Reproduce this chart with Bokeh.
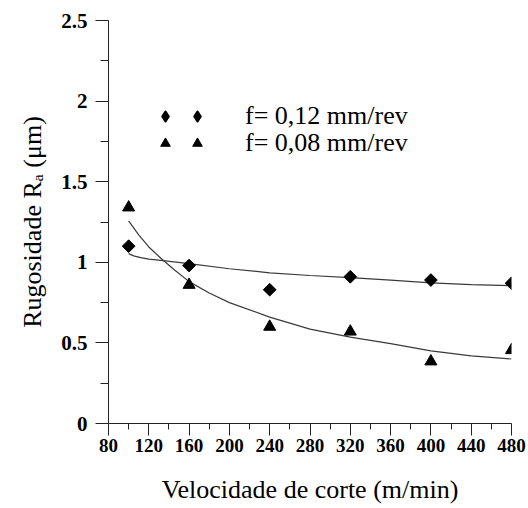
from bokeh.plotting import figure
from bokeh.models import Range1d, FixedTicker, Legend, LegendItem, Title
from bokeh.embed import file_html
from bokeh.resources import INLINE
import math

# ---- data ----
speed = [100, 160, 240, 320, 400, 480]
ra_f012 = [1.10, 0.98, 0.83, 0.91, 0.89, 0.87]
ra_f008 = [1.34, 0.86, 0.60, 0.57, 0.385, 0.455]

trend_f012_x = [100, 105, 112, 120, 132, 160, 200, 240, 280, 320, 360, 400, 440, 480]
trend_f012_y = [1.054, 1.040, 1.029, 1.020, 1.012, 0.992, 0.96, 0.935, 0.918, 0.905, 0.89, 0.872, 0.862, 0.855]

trend_f008_x = [100, 110, 120, 132, 145, 160, 180, 200, 240, 280, 320, 360, 400, 440, 480]
trend_f008_y = [1.257, 1.17, 1.095, 1.025, 0.955, 0.88, 0.81, 0.75, 0.66, 0.585, 0.536, 0.495, 0.45, 0.42, 0.40]

x_ticks = [80, 120, 160, 200, 240, 280, 320, 360, 400, 440, 480]
x_minor = [100, 140, 180, 220, 260, 300, 340, 380, 420, 460]
y_ticks = [0, 0.5, 1, 1.5, 2, 2.5]
y_tick_labels = ["0", "0.5", "1", "1.5", "2", "2.5"]
y_minor = [0.25, 0.75, 1.25, 1.75, 2.25]

labels = ["f= 0,12 mm/rev", "f= 0,08 mm/rev"]
x_title = "Velocidade de corte (m/min)"
y_title = "Rugosidade R\u2090 (\u03bcm)"

SERIF = "'Liberation Serif', 'Times New Roman', serif"

p = figure(width=528, height=508, output_backend="svg", toolbar_location=None,
           x_range=Range1d(80, 480), y_range=Range1d(0, 2.5),
           min_border_left=108, min_border_right=17, min_border_top=20, min_border_bottom=85)
p.outline_line_color = None
p.grid.visible = False
p.background_fill_color = "white"
p.border_fill_color = "white"

# axes
for ax in (p.xaxis[0], p.yaxis[0]):
    ax.axis_line_color = "#222222"
    ax.axis_line_width = 1
    ax.major_tick_line_color = "#222222"
    ax.minor_tick_line_color = "#222222"
    ax.major_tick_in = 0
    ax.minor_tick_in = 0
    ax.major_label_text_font = SERIF
    ax.major_label_text_font_style = "bold"
    ax.major_label_text_color = "black"
    ax.axis_label_text_font = SERIF
    ax.axis_label_text_font_style = "normal"
    ax.axis_label_text_font_size = "26px"
    ax.axis_label_text_color = "black"

p.xaxis.ticker = FixedTicker(ticks=x_ticks, minor_ticks=x_minor)
p.xaxis.major_tick_out = 12
p.xaxis.minor_tick_out = 6
p.xaxis.major_label_text_font_size = "19px"
p.xaxis.major_label_standoff = 3
p.xaxis.axis_label = x_title
p.xaxis.axis_label_standoff = 20

p.yaxis.ticker = FixedTicker(ticks=y_ticks, minor_ticks=y_minor)
p.yaxis.major_label_overrides = {t: s for t, s in zip(y_ticks, y_tick_labels)}
p.yaxis.major_tick_out = 13
p.yaxis.minor_tick_out = 8
p.yaxis.major_label_text_font_size = "21px"
p.yaxis.major_label_standoff = 8

# y-axis title: a left-side title, nudged a little below the axis centre as in the source
ytitle = Title(text=y_title, align="center", offset=-19, standoff=24,
               text_font=SERIF, text_font_size="26px", text_font_style="normal",
               text_color="black")
p.add_layout(ytitle, "left")

# trend curves
p.line(trend_f012_x, trend_f012_y, line_color="#3a3a3a", line_width=1.2)
p.line(trend_f008_x, trend_f008_y, line_color="#3a3a3a", line_width=1.2)

# data points
r_d = p.scatter(speed, ra_f012, marker="square", angle=math.pi / 4, size=9,
                fill_color="black", line_color="black")
r_t = p.scatter(speed, ra_f008, marker="triangle", size=12,
                fill_color="black", line_color="black")

# hidden legend-key renderer so the key is drawn as a diamond
r_d_key = p.scatter(speed[:1], ra_f012[:1], marker="diamond", fill_color="black",
                    line_color="black", line_width=2.2, line_join="round", visible=False)

common = dict(glyph_width=24, glyph_height=32, padding=0, margin=0, spacing=0,
              border_line_alpha=0, background_fill_alpha=0,
              inactive_fill_alpha=0,
              label_text_font=SERIF, label_text_font_size="26px",
              label_text_color="black", label_height=32)
rows = [(r_d_key, labels[0], 291), (r_t, labels[1], 264)]
for rend, lab, yoff in rows:
    p.add_layout(Legend(items=[LegendItem(label=lab, renderers=[rend])],
                        location=(45, yoff), label_standoff=68, **common))
    p.add_layout(Legend(items=[LegendItem(label=" ", renderers=[rend])],
                        location=(77, yoff), label_standoff=0, **common))

open("out.html", "w").write(file_html(p, INLINE))
